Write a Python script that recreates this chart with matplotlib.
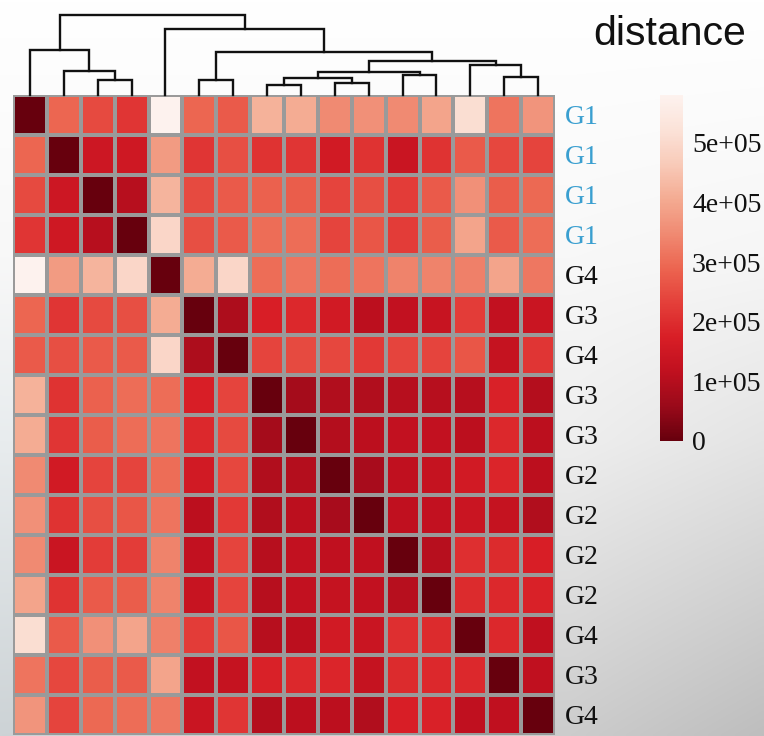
import numpy as np
import matplotlib.pyplot as plt
from matplotlib.colors import LinearSegmentedColormap, to_rgb

# row / column labels in clustered order
labels = ['G1', 'G1', 'G1', 'G1', 'G4', 'G3', 'G4', 'G3',
          'G3', 'G2', 'G2', 'G2', 'G2', 'G4', 'G3', 'G4']
label_colors = ['#3a9fd0'] * 4 + ['#111111'] * 12

# upper triangle of the distance matrix, in units of 1e5 (row i, cols i+1..15)
upper = [
    [2.90, 2.49, 2.15, 5.80, 2.90, 2.73, 4.18, 4.06, 3.48, 3.60, 3.48, 3.94, 5.10, 3.13, 3.65],
    [1.45, 1.51, 3.77, 2.15, 2.55, 2.09, 2.15, 1.57, 2.09, 1.39, 2.09, 2.73, 2.44, 2.38],
    [1.04, 4.23, 2.49, 2.73, 2.84, 2.78, 2.38, 2.55, 2.26, 2.73, 3.60, 2.78, 2.96],
    [4.93, 2.55, 2.73, 3.02, 3.02, 2.38, 2.67, 2.26, 2.78, 3.94, 2.73, 3.02],
    [4.06, 4.93, 3.02, 3.13, 3.02, 3.13, 3.36, 3.36, 3.31, 3.94, 3.19],
    [0.87, 1.74, 1.91, 1.57, 1.10, 1.22, 1.33, 2.26, 1.22, 1.39],
    [2.38, 2.49, 2.44, 2.20, 2.38, 2.38, 2.67, 1.28, 2.15],
    [0.75, 0.93, 0.93, 1.04, 1.04, 1.04, 1.80, 0.99],
    [0.99, 1.10, 1.22, 1.22, 1.10, 1.91, 1.10],
    [0.81, 1.16, 1.28, 1.57, 1.86, 1.10],
    [1.16, 1.22, 1.39, 1.28, 0.93],
    [1.04, 2.03, 1.97, 1.74],
    [1.97, 1.91, 1.80],
    [1.91, 1.16],
    [1.16],
]

# dendrogram merges: (left node, right node, height relative to root)
merges = [
    (7, 8, 0.129), (9, 10, 0.153), (2, 3, 0.19), (5, 6, 0.19),
    (16, 17, 0.214), (14, 15, 0.23), (11, 12, 0.25), (20, 22, 0.29),
    (1, 18, 0.302), (13, 21, 0.375), (23, 25, 0.423), (19, 26, 0.532),
    (0, 24, 0.565), (4, 27, 0.827), (28, 29, 1.0),
]

cbar_ticks = [0, 1e5, 2e5, 3e5, 4e5, 5e5]
cbar_labels = ['0', '1e+05', '2e+05', '3e+05', '4e+05', '5e+05']
vmax = 5.8e5

n = len(labels)
dist = np.zeros((n, n))
for i, row in enumerate(upper):
    for k, v in enumerate(row):
        j = i + 1 + k
        dist[i, j] = dist[j, i] = v * 1e5

cmap = LinearSegmentedColormap.from_list('dist', [
    '#67000d', '#9a0a1a', '#c0101f', '#d81e26', '#e4403a', '#ec6550',
    '#f08a72', '#f4ab92', '#f8cab8', '#fbe2d8', '#fdf2ee'])

W, H = 764, 736


def box(x0, y0, x1, y1):
    return [x0 / W, 1 - y1 / H, (x1 - x0) / W, (y1 - y0) / H]


fig = plt.figure(figsize=(W / 100, H / 100), dpi=100)

# soft screenshot-like background
ys = [0.0, 0.35, 0.6, 1.0]
xs = [0.0, 0.75, 1.0]
grid = [['#ffffff', '#ffffff', '#ffffff'],
        ['#f8f8f8', '#f8f8f8', '#f6f6f6'],
        ['#e8ecee', '#eeeeee', '#e4e4e4'],
        ['#cdd3d6', '#cccccc', '#bebebe']]
grid = np.array([[to_rgb(c) for c in r] for r in grid])
yy = np.linspace(0, 1, 200)
xx = np.linspace(0, 1, 200)
tmp = np.stack([np.array([np.interp(yy, ys, grid[:, c, ch]) for ch in range(3)]).T
                for c in range(3)], axis=1)
bgimg = np.stack([np.array([np.interp(xx, xs, tmp[r, :, ch]) for ch in range(3)]).T
                  for r in range(200)])
bg = fig.add_axes([0, 0, 1, 1], zorder=-1)
bg.imshow(bgimg, extent=[0, 1, 0, 1], aspect='auto', interpolation='bilinear')
bg.axis('off')

# heatmap
ax = fig.add_axes(box(13, 95, 555, 735))
ax.patch.set_alpha(0)
mesh = ax.pcolormesh(np.arange(n + 1), np.arange(n + 1), dist, cmap=cmap,
                     vmin=0, vmax=vmax, edgecolors='#9a9a9a', linewidth=1.5)
ax.set_xlim(0, n)
ax.set_ylim(n, 0)
ax.set_xticks([])
ax.yaxis.tick_right()
ax.set_yticks(np.arange(n) + 0.5)
ax.set_yticklabels(labels, family='Liberation Serif', fontsize=20)
for t, c in zip(ax.get_yticklabels(), label_colors):
    t.set_color(c)
ax.tick_params(axis='y', length=0, pad=7)
for s in ax.spines.values():
    s.set_visible(False)

# dendrogram
dax = fig.add_axes(box(13, 14, 555, 95))
dax.patch.set_alpha(0)
pos = {i: i + 0.5 for i in range(n)}
hgt = {i: 0.0 for i in range(n)}
for k, (a, b, h) in enumerate(merges):
    xa, xb = pos[a], pos[b]
    dax.plot([xa, xa, xb, xb], [hgt[a], h, h, hgt[b]], color='#111111', lw=1.7,
             clip_on=False, solid_joinstyle='miter')
    pos[n + k] = (xa + xb) / 2
    hgt[n + k] = h
dax.set_xlim(0, n)
dax.set_ylim(0, 1.0125)
dax.axis('off')

# colour key
cax = fig.add_axes(box(660, 95, 683, 441))
cb = fig.colorbar(mesh, cax=cax)
cb.outline.set_visible(False)
cb.set_ticks(cbar_ticks)
cb.set_ticklabels(cbar_labels)
cax.tick_params(length=0, pad=6.5)
for t in cax.get_yticklabels():
    t.set_family('Liberation Serif')
    t.set_fontsize(20)
    t.set_color('#111111')

fig.text(593 / W, 1 - 45 / H, 'distance', ha='left', va='baseline',
         fontsize=29.5, family='Liberation Sans', color='#111111')

fig.savefig('out.png', dpi=100)
